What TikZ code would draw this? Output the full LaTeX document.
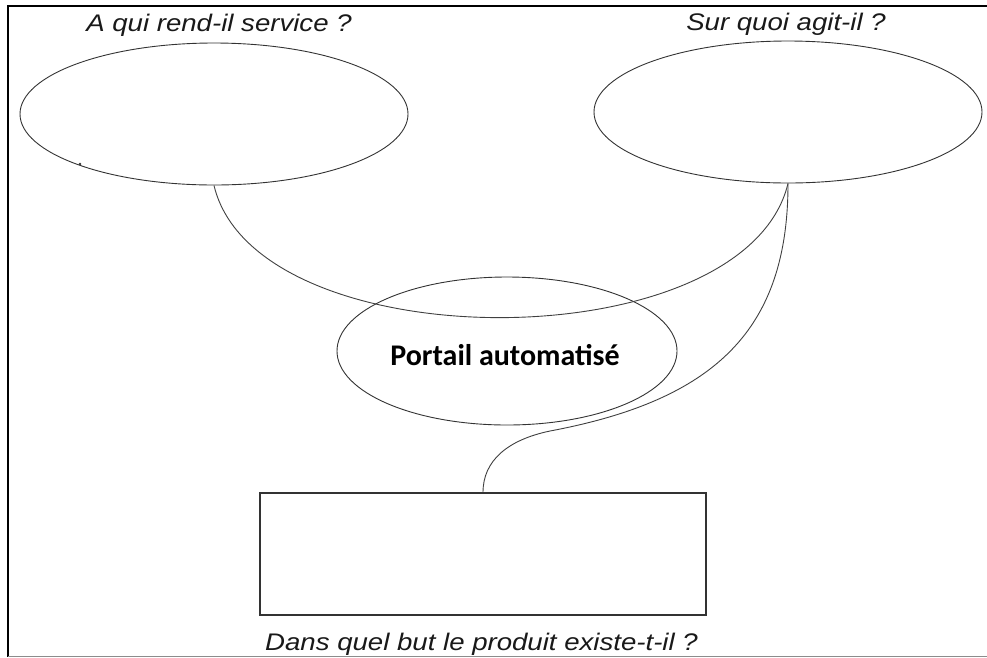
\documentclass[tikz,border=0pt]{standalone}
\usepackage{fontspec}
\usetikzlibrary{shapes.geometric}
\newfontfamily\titlefont[FakeStretch=1.15]{Liberation Sans}
\newfontfamily\labelfont{Carlito}
\begin{document}
\begin{tikzpicture}[x=1pt,y=-1pt,
  oval/.style={draw=black!80, line width=0.9pt, ellipse, inner sep=0pt},
  link/.style={draw=black!75, line width=0.9pt},
  question/.style={font=\titlefont\itshape\fontsize{24}{28}\selectfont, anchor=base, inner sep=0pt, text=black!90},
]
\useasboundingbox (0,0) rectangle (987,657);
% frame
\draw[line width=2pt] (987,6) -- (8,6) -- (8,657);
\draw[black!45, line width=1pt] (8,656) -- (987,656);
% ovals
\node[oval, minimum width=388pt, minimum height=142pt] (serv) at (214,114) {};
\node[oval, minimum width=388pt, minimum height=142pt] (agit) at (788,112) {};
\node[oval, minimum width=340pt, minimum height=148pt] (port) at (507,351) {};
\node[font=\labelfont\bfseries\fontsize{30}{35}\selectfont, anchor=base, inner sep=0pt] (portlbl) at (505,365) {Portail automatisé};
% box
\node[draw=black!80, line width=1.3pt, minimum width=446pt, minimum height=122pt, inner sep=0pt] (but) at (483,554) {};
% questions
\node[question] (q1) at (219,31.5) {A qui rend-il service ?};
\node[question] (q2) at (786,30) {Sur quoi agit-il ?};
\node[question] (q3) at (481.5,650) {Dans quel but le produit existe-t-il ?};
% connectors
\draw[link] (serv.south) .. controls (256,362) and (745,362) .. (agit.south);
\draw[link] (agit.south) .. controls (788,330) and (715,400) .. (550,431) .. controls (507,440) and (483,461) .. (but.north);
\fill[black!80] (80,164) circle (1.3pt);
\end{tikzpicture}
\end{document}
